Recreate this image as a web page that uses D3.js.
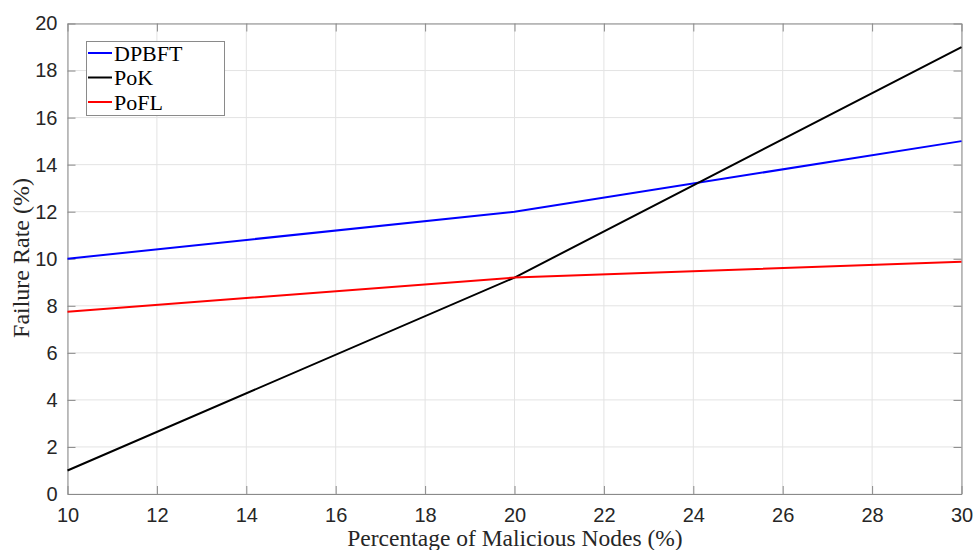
<!DOCTYPE html>
<html>
<head>
<meta charset="utf-8">
<script src="https://cdn.jsdelivr.net/npm/d3@7"></script>
<style>
	body { margin: 0; background: #fff; }
	svg { display: block; }
</style>
</head>
<body>
<svg id="chart" width="974" height="550"></svg>
<script>
"use strict"

// values
var xValues = [10, 20, 30];
var dpbft = [10, 12, 15];
var pok = [1, 9.2, 19];
var pofl = [7.75, 9.2, 9.87];
var seriesNames = ["DPBFT", "PoK", "PoFL"];
var seriesColors = ["#0000ff", "#000000", "#ff0000"];
var xTicks = [10, 12, 14, 16, 18, 20, 22, 24, 26, 28, 30];
var yTicks = [0, 2, 4, 6, 8, 10, 12, 14, 16, 18, 20];

var plotLeft = 67.5, plotTop = 23.5, plotRight = 961.5, plotBottom = 494;
var svg = d3.select("#chart");

var x = d3.scaleLinear().domain([10, 30]).range([plotLeft, plotRight]);
var y = d3.scaleLinear().domain([0, 20]).range([plotBottom, plotTop]);

// grid
svg.append("g")
	.selectAll("line")
	.data(xTicks)
	.enter().append("line")
	.attr("x1", function(d) { return x(d); })
	.attr("x2", function(d) { return x(d); })
	.attr("y1", plotTop)
	.attr("y2", plotBottom)
	.attr("stroke", "#e3e3e3")
	.attr("stroke-width", 1)
	;
svg.append("g")
	.selectAll("line")
	.data(yTicks)
	.enter().append("line")
	.attr("x1", plotLeft)
	.attr("x2", plotRight)
	.attr("y1", function(d) { return y(d); })
	.attr("y2", function(d) { return y(d); })
	.attr("stroke", "#e3e3e3")
	.attr("stroke-width", 1)
	;

// axes (ticks point inward)
var axisColor = "#8a8a8a";
var xAxis = d3.axisBottom(x).tickValues(xTicks).tickSizeInner(-8).tickSizeOuter(0).tickPadding(14);
var yAxis = d3.axisLeft(y).tickValues(yTicks).tickSizeInner(-8).tickSizeOuter(0).tickPadding(10);
var xTop = d3.axisTop(x).tickValues(xTicks).tickSizeInner(-8).tickSizeOuter(0).tickFormat("");
var yRight = d3.axisRight(y).tickValues(yTicks).tickSizeInner(-8).tickSizeOuter(0).tickFormat("");

function styleAxis(g) {
	g.selectAll("path").attr("stroke", axisColor);
	g.selectAll("line").attr("stroke", axisColor);
	g.selectAll("text")
		.attr("fill", "#262626")
		.style("font-family", "'Liberation Sans', Arial, sans-serif")
		.style("font-size", "20px");
}

svg.append("g").attr("transform", "translate(0," + plotBottom + ")").call(xAxis).call(styleAxis);
svg.append("g").attr("transform", "translate(" + plotLeft + ",0)").call(yAxis).call(styleAxis);
svg.append("g").attr("transform", "translate(0," + plotTop + ")").call(xTop).call(styleAxis);
svg.append("g").attr("transform", "translate(" + plotRight + ",0)").call(yRight).call(styleAxis);

// lines
var allSeries = [dpbft, pok, pofl];
var line = d3.line()
	.x(function(d, i) { return x(xValues[i]); })
	.y(function(d) { return y(d); })
	;
svg.append("g")
	.selectAll("path")
	.data(allSeries)
	.enter().append("path")
	.attr("d", function(d) { return line(d); })
	.attr("fill", "none")
	.attr("stroke", function(d, i) { return seriesColors[i]; })
	.attr("stroke-width", 2)
	;

// axis labels
svg.append("text")
	.attr("x", 515)
	.attr("y", 546)
	.attr("text-anchor", "middle")
	.attr("fill", "#262626")
	.style("font-family", "'Liberation Serif', 'Times New Roman', serif")
	.style("font-size", "23.5px")
	.text("Percentage of Malicious Nodes (%)")
	;
svg.append("text")
	.attr("transform", "translate(29,258) rotate(-90)")
	.attr("text-anchor", "middle")
	.attr("fill", "#262626")
	.style("font-family", "'Liberation Serif', 'Times New Roman', serif")
	.style("font-size", "24px")
	.text("Failure Rate (%)")
	;

// legend
var lg = svg.append("g");
lg.append("rect")
	.attr("x", 86.5)
	.attr("y", 41.5)
	.attr("width", 138)
	.attr("height", 74)
	.attr("fill", "#fff")
	.attr("stroke", "#8a8a8a")
	.attr("stroke-width", 1)
	;
var items = lg.selectAll("g")
	.data(seriesNames)
	.enter().append("g")
	.attr("transform", function(d, i) { return "translate(0," + (53 + i * 24.5) + ")"; })
	;
items.append("line")
	.attr("x1", 88)
	.attr("x2", 112)
	.attr("y1", 0)
	.attr("y2", 0)
	.attr("stroke", function(d, i) { return seriesColors[i]; })
	.attr("stroke-width", 2)
	;
items.append("text")
	.attr("x", 114)
	.attr("y", 7.5)
	.attr("fill", "#000")
	.style("font-family", "'Liberation Serif', 'Times New Roman', serif")
	.style("font-size", "22px")
	.text(function(d) { return d; })
	;
</script>
</body>
</html>
